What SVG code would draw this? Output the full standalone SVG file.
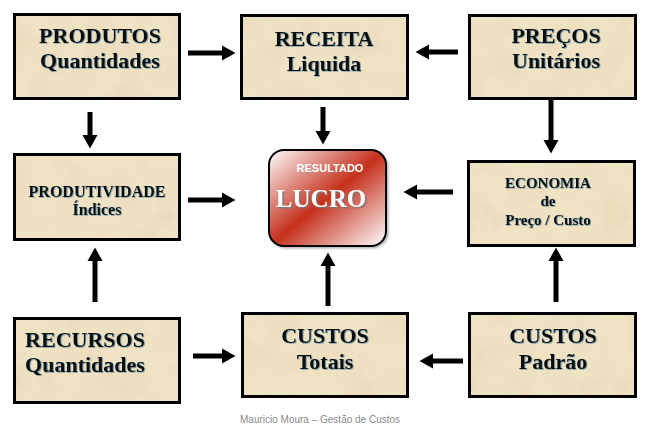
<svg xmlns="http://www.w3.org/2000/svg" width="646" height="431" viewBox="0 0 646 431">
<defs>
<filter id="paper" x="0" y="0" width="1" height="1">
<feTurbulence type="fractalNoise" baseFrequency="0.035" numOctaves="4" seed="3" result="noise"/>
<feColorMatrix in="noise" type="matrix" values="0 0 0 0 0.78  0 0 0 0 0.66  0 0 0 0 0.45  1.3 0 0 0 -0.55" result="tint"/>
<feComposite in="tint" in2="SourceAlpha" operator="in" result="tex"/>
<feMerge><feMergeNode in="SourceGraphic"/><feMergeNode in="tex"/></feMerge>
</filter>
<filter id="tshadow" x="-10%" y="-20%" width="120%" height="140%">
<feDropShadow dx="0.8" dy="0.6" stdDeviation="0.2" flood-color="#2a6a90" flood-opacity="0.7"/>
</filter>
<filter id="wshadow" x="-10%" y="-20%" width="120%" height="140%">
<feDropShadow dx="1.5" dy="1.5" stdDeviation="0.6" flood-color="#777" flood-opacity="0.9"/>
</filter>
<filter id="bshadow" x="-10%" y="-10%" width="125%" height="125%">
<feDropShadow dx="1.5" dy="1.5" stdDeviation="1.2" flood-color="#000" flood-opacity="0.3"/>
</filter>
<linearGradient id="red" x1="0" y1="0" x2="1" y2="1">
<stop offset="0" stop-color="#ffffff"/>
<stop offset="0.5" stop-color="#c5301c"/>
<stop offset="1" stop-color="#ffffff"/>
</linearGradient>
<marker id="ah" markerUnits="userSpaceOnUse" markerWidth="14" markerHeight="15" refX="0" refY="7.5" orient="auto" overflow="visible">
<path d="M0,0 L13.5,7.5 L0,15 Z" fill="#000"/>
</marker>
<style>
.box{fill:#f0e3c4;stroke:none;filter:url(#paper)}
.frame{fill:none;stroke:#000;stroke-width:3}
.t{font-family:"Liberation Serif","Times New Roman",serif;font-weight:bold;fill:#0a0a0a;text-anchor:middle;filter:url(#tshadow)}
.big{font-size:22px}
.mid{font-size:16px}
.sm{font-size:15px}
.arr line{stroke:#000;stroke-width:5;marker-end:url(#ah)}
</style>
</defs>
<g id="connectors" class="arr">
<line x1="188" y1="53" x2="222" y2="53"/>
<line x1="458" y1="52" x2="429" y2="52"/>
<line x1="90" y1="112" x2="90" y2="135"/>
<line x1="323" y1="107" x2="323" y2="131"/>
<line x1="551" y1="100" x2="551" y2="140"/>
<line x1="188" y1="200" x2="222" y2="200"/>
<line x1="453" y1="192" x2="417" y2="192"/>
<line x1="95" y1="302" x2="95" y2="261"/>
<line x1="328" y1="306" x2="328" y2="266"/>
<line x1="556" y1="302" x2="556" y2="261"/>
<line x1="193" y1="356" x2="222" y2="356"/>
<line x1="463" y1="361" x2="433" y2="361"/>
</g>
<g id="produtos">
<rect class="box" x="14.5" y="14.5" width="165" height="84"/>
<rect class="frame" x="14.5" y="14.5" width="165" height="84"/>
<text class="t big" x="100" y="43">PRODUTOS</text>
<text class="t big" x="100" y="68">Quantidades</text>
</g>
<g id="receita">
<rect class="box" x="241.5" y="15.5" width="166" height="83"/>
<rect class="frame" x="241.5" y="15.5" width="166" height="83"/>
<text class="t big" x="324" y="46">RECEITA</text>
<text class="t big" x="324" y="71">Liquida</text>
</g>
<g id="precos">
<rect class="box" x="469.5" y="15.5" width="166" height="83"/>
<rect class="frame" x="469.5" y="15.5" width="166" height="83"/>
<text class="t big" x="556" y="43">PREÇOS</text>
<text class="t big" x="556" y="68">Unitários</text>
</g>
<g id="produtividade">
<rect class="box" x="14.5" y="154.5" width="165" height="85"/>
<rect class="frame" x="14.5" y="154.5" width="165" height="85"/>
<text class="t mid" x="97" y="197">PRODUTIVIDADE</text>
<text class="t mid" x="97" y="215">Índices</text>
</g>
<g id="lucro">
<rect x="269" y="150" width="117" height="96" rx="15" ry="15" fill="url(#red)" stroke="#000" stroke-width="2" filter="url(#bshadow)"/>
<text x="330" y="172" font-family="'Liberation Sans',Arial,sans-serif" font-weight="bold" font-size="11" fill="#fff" text-anchor="middle">RESULTADO</text>
<text x="321" y="207" font-family="'Liberation Serif','Times New Roman',serif" font-weight="bold" font-size="25" fill="#fff" text-anchor="middle" filter="url(#wshadow)">LUCRO</text>
</g>
<g id="economia">
<rect class="box" x="468.5" y="161.5" width="166" height="84"/>
<rect class="frame" x="468.5" y="161.5" width="166" height="84"/>
<text class="t sm" x="548" y="188">ECONOMIA</text>
<text class="t sm" x="548" y="206">de</text>
<text class="t sm" x="548" y="225">Preço / Custo</text>
</g>
<g id="recursos">
<rect class="box" x="14.5" y="318.5" width="165" height="84"/>
<rect class="frame" x="14.5" y="318.5" width="165" height="84"/>
<text class="t big" x="85" y="347">RECURSOS</text>
<text class="t big" x="85" y="372">Quantidades</text>
</g>
<g id="custos-totais">
<rect class="box" x="242.5" y="313.5" width="165" height="83"/>
<rect class="frame" x="242.5" y="313.5" width="165" height="83"/>
<text class="t big" x="325" y="343">CUSTOS</text>
<text class="t big" x="325" y="369">Totais</text>
</g>
<g id="custos-padrao">
<rect class="box" x="469.5" y="313.5" width="166" height="83"/>
<rect class="frame" x="469.5" y="313.5" width="166" height="83"/>
<text class="t big" x="553" y="343">CUSTOS</text>
<text class="t big" x="553" y="369">Padrão</text>
</g>
<text x="240" y="423" font-family="'Liberation Sans',Arial,sans-serif" font-size="10" fill="#8a8a8a">Mauricio Moura – Gestão de Custos</text>
</svg>
